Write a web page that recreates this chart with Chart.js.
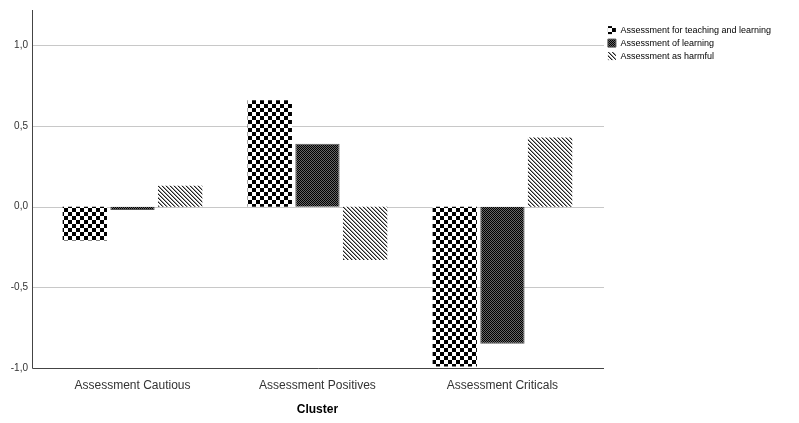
<!DOCTYPE html>
<html>
<head>
<meta charset="utf-8">
<script src="https://cdn.jsdelivr.net/npm/chart.js@4"></script>
<style>
  body { margin:0; background:#fff; }
  #wrap { width:799px; height:423px; }
</style>
</head>
<body>
<div id="wrap"><canvas id="myChart" width="799" height="423"></canvas></div>
<script>
// data
var clusters = ['Assessment Cautious', 'Assessment Positives', 'Assessment Criticals'];
var seriesNames = ['Assessment for teaching and learning', 'Assessment of learning', 'Assessment as harmful'];
var teachingLearning = [-0.21, 0.66, -0.99];
var ofLearning = [-0.02, 0.39, -0.85];
var asHarmful = [0.13, -0.33, 0.43];
var yTicks = [-1, -0.5, 0, 0.5, 1];

// patterns
function checker(size, c1, c2){
    var c = document.createElement('canvas');
    c.width = size*2; c.height = size*2;
    var g = c.getContext('2d');
    g.fillStyle = c2; g.fillRect(0,0,size*2,size*2);
    g.fillStyle = c1;
    g.fillRect(0,0,size,size);
    g.fillRect(size,size,size,size);
    return g.createPattern(c,'repeat');
}
function diag(){
    var c = document.createElement('canvas');
    c.width = 4; c.height = 4;
    var g = c.getContext('2d');
    g.fillStyle = '#fff'; g.fillRect(0,0,4,4);
    for(var i=0;i<4;i++){
        g.fillStyle = '#222'; g.fillRect(i,i,1,1);
        g.fillStyle = '#9a9a9a'; g.fillRect((i+1)%4,i,1,1);
    }
    return g.createPattern(c,'repeat');
}

// axis frame a bit wider than the bar area (like SPSS)
var AX_LEFT = 32, AX_RIGHT = 604;
var framePlugin = {
    id: 'frame',
    afterLayout: function(chart){
        chart.legend.left += 9;
        chart.legend.right += 9;
    },
    beforeDatasetsDraw: function(chart){
        var g = chart.ctx, y = chart.scales.y, a = chart.chartArea;
        g.save();
        g.lineWidth = 1;
        g.strokeStyle = '#c8c8c8';
        yTicks.forEach(function(v){
            if(v == -1) return;
            var py = Math.round(y.getPixelForValue(v)) + 0.5;
            g.beginPath(); g.moveTo(AX_LEFT, py); g.lineTo(AX_RIGHT, py); g.stroke();
        });
        g.strokeStyle = '#444';
        var by = Math.round(a.bottom) + 0.5;
        g.beginPath();
        g.moveTo(AX_LEFT + 0.5, a.top);
        g.lineTo(AX_LEFT + 0.5, by);
        g.lineTo(AX_RIGHT, by);
        g.stroke();
        g.restore();
    }
};

var ctx = document.getElementById('myChart').getContext('2d');
var pats = [checker(4,'#000','#fff'), checker(1,'#000','#666'), diag()];
var vals = [teachingLearning, ofLearning, asHarmful];

var myChart = new Chart(ctx, {
    type: 'bar',
    data: {
        labels: clusters,
        datasets: seriesNames.map(function(n,i){
            return {
                label: n,
                data: vals[i],
                backgroundColor: pats[i],
                borderColor: i==1 ? '#555' : 'rgba(0,0,0,0)',
                borderWidth: i==1 ? 1 : 0,
                barPercentage: 0.93,
                categoryPercentage: 0.773
            };
        })
    },
    plugins: [framePlugin],
    options: {
        responsive: false,
        animation: false,
        devicePixelRatio: 1,
        layout: { padding: { left: 0, top: 10, right: 27, bottom: 6 } },
        plugins: {
            tooltip: { enabled: false },
            legend: {
                position: 'right',
                align: 'start',
                title: { display: true, text: ' ', font: { size: 8 }, padding: 1 },
                labels: {
                    boxWidth: 8, boxHeight: 8, padding: 4,
                    color: '#000',
                    font: { family: 'Liberation Sans, Arial', size: 9 }
                }
            }
        },
        scales: {
            x: {
                afterFit: function(s){ s.height = 49; },
                grid: { display: false, drawTicks: false },
                border: { display: false },
                ticks: { color: '#333', padding: 10, font: { family: 'Liberation Sans, Arial', size: 12 } },
                title: { display: true, text: 'Cluster', color: '#000', padding: { top: 10, bottom: 0 },
                    font: { family: 'Liberation Sans, Arial', size: 12, weight: 'bold' } }
            },
            y: {
                min: -1, max: 1.22,
                afterBuildTicks: function(s){ s.ticks = yTicks.map(function(v){ return {value:v}; }); },
                afterFit: function(s){ s.width = 40; s.paddingTop = 0; s.paddingBottom = 0; },
                grid: { display: false, drawTicks: false },
                border: { display: false },
                ticks: {
                    color: '#333', padding: 12,
                    font: { family: 'Liberation Sans, Arial', size: 10 },
                    callback: function(v){ return v.toFixed(1).replace('.', ','); }
                }
            }
        }
    }
});
</script>
</body>
</html>
